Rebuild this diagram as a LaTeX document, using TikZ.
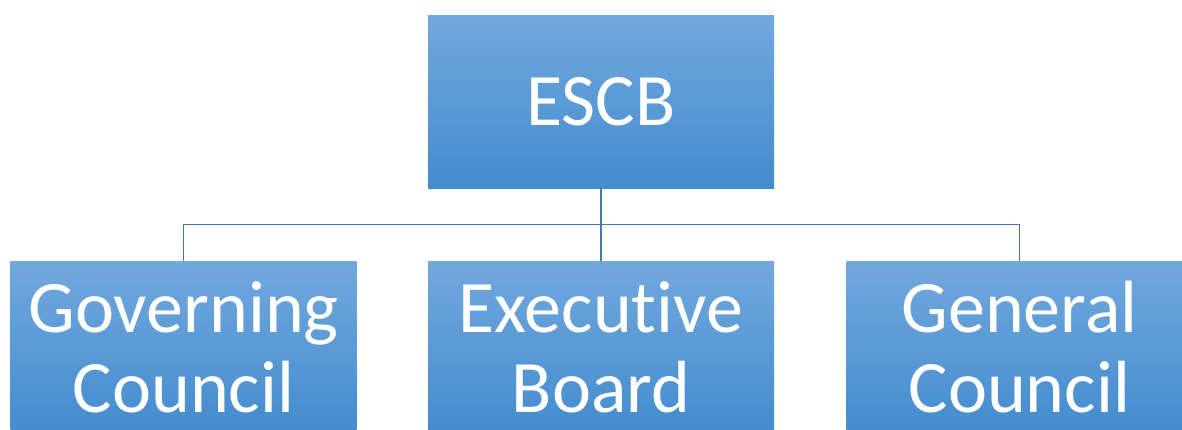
\documentclass[tikz,border=0pt]{standalone}
\usepackage{fontspec}
\setmainfont{Carlito}[Ligatures=NoCommon]
\usepackage{xcolor}
\usetikzlibrary{positioning, calc}
\definecolor{BoxTop}{RGB}{114, 168, 222}
\definecolor{BoxBottom}{RGB}{67, 140, 206}
\definecolor{LinkBlue}{RGB}{72, 118, 180}

\begin{document}
\begin{tikzpicture}[
        x=1pt, y=1pt,
        node distance=72pt,
        orgbox/.style={rectangle, top color=BoxTop, bottom color=BoxBottom, draw=none,
            minimum width=346pt, minimum height=172pt, inner sep=0pt,
            text=white, align=center, font=\fontsize{74}{80}\selectfont},
        link/.style={draw=LinkBlue, line width=1.2pt}
    ]
        \useasboundingbox (0,0) rectangle (1182,429);

        % Top
        \node[orgbox] (escb) at (601, 327) {ESCB};

        % Bottom row
        \node[orgbox, below=73pt of escb] (exec) {Executive\\Board};
        \node[orgbox, left=71pt of exec] (gov) {Governing\\Council};
        \node[orgbox, right=72pt of exec] (gen) {General\\Council};

        % Connectors
        \coordinate (hub) at ($(escb.south)!0.5!(exec.north)$);
        \draw[link] (escb.south) -- (exec.north);
        \draw[link] (hub) -| (gov.north);
        \draw[link] (hub) -| (gen.north);
    \end{tikzpicture}
\end{document}
